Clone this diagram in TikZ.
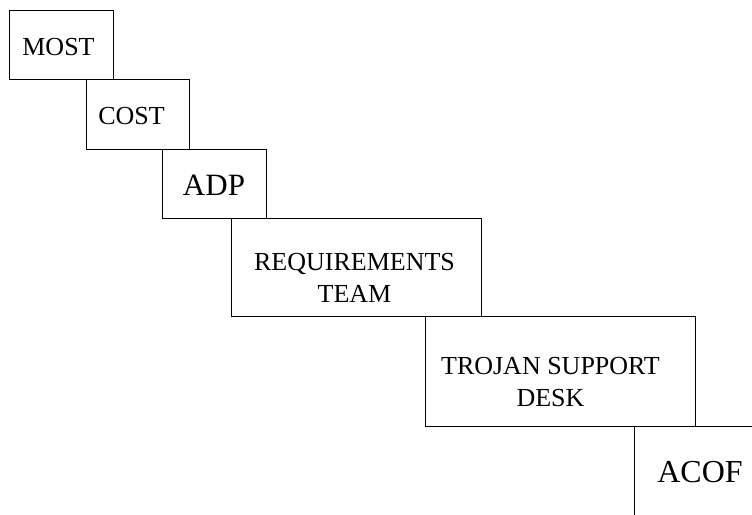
\documentclass[tikz,border=0pt]{standalone}
\usepackage{fontspec}
\setmainfont{Liberation Serif}
\usetikzlibrary{positioning}
\tikzset{
	stepbox/.style = {rectangle, draw=black, line width=0.8pt, inner sep=0pt, outer sep=0pt, anchor=north west},
	steplabel/.style = {inner sep=0pt, align=center, font=\fontsize{26}{32}\selectfont},
	biglabel/.style = {steplabel, font=\fontsize{31}{36}\selectfont}
}

\begin{document}
\begin{tikzpicture}[x=1pt, y=-1pt]
		\useasboundingbox (0,0) rectangle (752,514);
		\clip (0,0) rectangle (752,514);
		%boxes of the staircase
		\node (most) [stepbox, minimum width=104pt, minimum height=69pt] at (9,10) {};
		\node (cost) [stepbox, minimum width=103pt, minimum height=70pt] at ([xshift=-27pt]most.south east) {};
		\node (adp) [stepbox, minimum width=104pt, minimum height=69pt] at ([xshift=-27pt]cost.south east) {};
		\node (reqteam) [stepbox, minimum width=250pt, minimum height=98pt] at ([xshift=-35pt]adp.south east) {};
		\node (trojan) [stepbox, minimum width=270pt, minimum height=110pt] at ([xshift=-56pt]reqteam.south east) {};
		\node (acof) [stepbox, minimum width=170pt, minimum height=120pt] at ([xshift=-61pt]trojan.south east) {};

		%texts in the boxes
		\node (most_text) [steplabel, anchor=base] at (58.5,55) {MOST};
		\node (cost_text) [steplabel, anchor=base] at (131.5,124) {COST};
		\node (adp_text) [biglabel, anchor=base] at (214,195) {ADP};
		\node (reqteam_text) [steplabel, anchor=north] at (354.5,253) {REQUIREMENTS\\TEAM};
		\node (trojan_text) [steplabel, anchor=north] at (550.5,357) {TROJAN SUPPORT\\DESK};
		\node (acof_text) [biglabel, font=\fontsize{32}{38}\selectfont, anchor=base] at (700,482) {ACOF};
\end{tikzpicture}
\end{document}
